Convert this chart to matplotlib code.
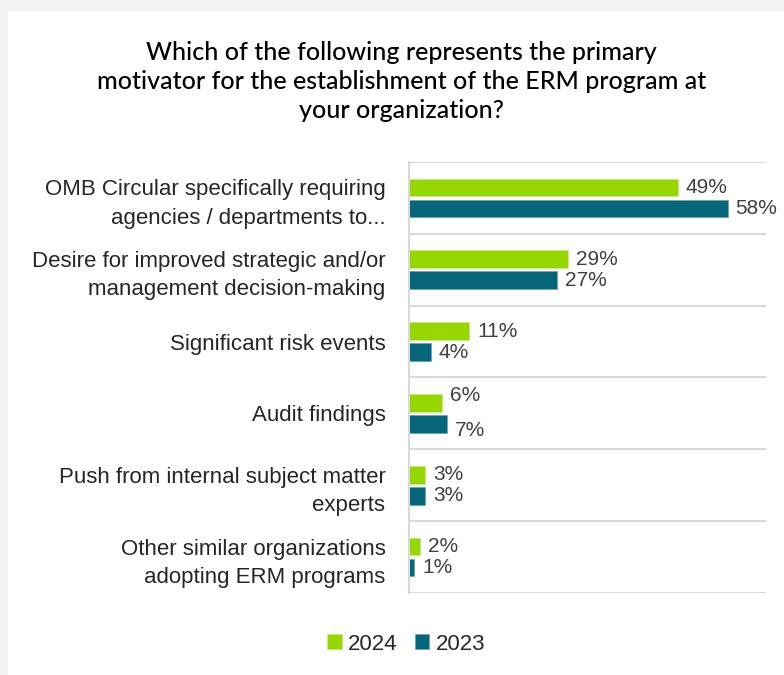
import matplotlib.pyplot as plt
import matplotlib.patches as mpatches
import numpy as np

categories = [
    "OMB Circular specifically requiring\nagencies / departments to...",
    "Desire for improved strategic and/or\nmanagement decision-making",
    "Significant risk events",
    "Audit findings",
    "Push from internal subject matter\nexperts",
    "Other similar organizations\nadopting ERM programs",
]
share_2024 = [49, 29, 11, 6, 3, 2]
share_2023 = [58, 27, 4, 7, 3, 1]

green = "#97d700"
teal = "#05667a"

fig = plt.figure(figsize=(7.84, 6.75), dpi=100)
fig.patch.set_facecolor("#f2f2f2")
panel = mpatches.Rectangle((8 / 784, 0), 1, 1 - 11 / 675, transform=fig.transFigure,
                           facecolor="white", edgecolor="none", zorder=-5)
fig.patches.append(panel)

ax = fig.add_axes([409 / 784, 1 - 593 / 675, (766 - 409) / 784, (593 - 162) / 675])
ax.set_zorder(1)
ax.set_facecolor("none")

y = np.arange(len(categories))
h = 0.245
off = 0.146
bars_a = ax.barh(y - off, share_2024, height=h, color=green, edgecolor="#c8ec80", linewidth=0.6, label="2024")
bars_b = ax.barh(y + off, share_2023, height=h, color=teal, edgecolor="#6fa6b2", linewidth=0.6, label="2023")

# small vertical nudges so the audit labels don't crowd each other
nudge = {(3, 0): 5, (3, 1): -5}
for j, (bars, vals) in enumerate([(bars_a, share_2024), (bars_b, share_2023)]):
    for i, (b, v) in enumerate(zip(bars, vals)):
        ax.annotate(f"{v}%", (v, b.get_y() + b.get_height() / 2), xytext=(5.5, nudge.get((i, j), 0)),
                    textcoords="offset points", va="center", ha="left",
                    fontsize=15, color="#404040", family="Liberation Sans")

ax.set_xlim(0, 65)
ax.set_ylim(len(categories) - 0.5, -0.5)
for k in np.arange(-0.5, len(categories), 1.0):
    ax.axhline(k, color="#d9d9d9", linewidth=1.5, zorder=0)

ax.set_xticks([])
ax.set_yticks(y)
ax.set_yticklabels(categories, fontsize=16, color="#262626", family="Liberation Sans", linespacing=1.45)
ax.tick_params(axis="y", length=0, pad=17)
for s in ["top", "right", "bottom"]:
    ax.spines[s].set_visible(False)
ax.spines["left"].set_color("#d9d9d9")
ax.spines["left"].set_linewidth(1.5)

fig.text(0.512, 1 - 81.5 / 675,
         "Which of the following represents the primary\nmotivator for the establishment of the ERM program at\nyour organization?",
         ha="center", va="center", fontsize=18, color="black", linespacing=1.34,
         family="Lato", fontweight="medium")

fig.legend(handles=[bars_a, bars_b], loc="center", bbox_to_anchor=(0.518, 1 - 644 / 675), ncol=2,
           frameon=False, handlelength=0.65, handleheight=0.65, handletextpad=0.28, columnspacing=0.8,
           prop={"family": "Liberation Sans", "size": 16}, labelcolor="#262626")

fig.savefig("out.png", dpi=100)
